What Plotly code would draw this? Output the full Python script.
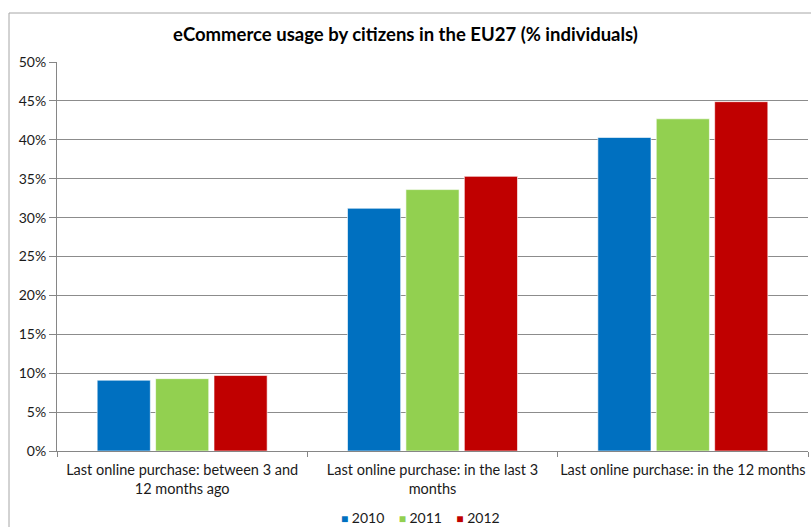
import plotly.graph_objects as go

# Share of individuals, by time of last online purchase
categories = [
    "Last online purchase: between 3 and<br>12 months ago",
    "Last online purchase: in the last 3<br>months",
    "Last online purchase: in the 12 months",
]
years = ["2010", "2011", "2012"]
values_2010 = [9.1, 31.2, 40.3]
values_2011 = [9.3, 33.6, 42.7]
values_2012 = [9.7, 35.3, 44.9]
colors = ["#0070C0", "#92D050", "#C00000"]
tick_vals = [0, 5, 10, 15, 20, 25, 30, 35, 40, 45, 50]
tick_text = [f"{v}%" for v in tick_vals]

FONT = "Lato"
TEXT = "#1a1a1a"

fig = go.Figure()
for name, vals, col in zip(years, [values_2010, values_2011, values_2012], colors):
    fig.add_trace(go.Bar(
        x=categories, y=vals, name=name, showlegend=False,
        marker=dict(color=col, line=dict(color="rgba(255,255,255,0.6)", width=1)),
    ))

L, R, T, B = 57, 3, 62, 76
W, H = 811, 527
pw, ph = W - L - R, H - T - B

# Compact legend row: coloured squares followed by the year
legend_text = "&nbsp;&nbsp;&nbsp;&nbsp;".join(
    f"<span style='color:{c};font-size:12px'>■</span>&nbsp;{y}"
    for y, c in zip(years, colors)
)

fig.update_layout(
    width=W, height=H,
    margin=dict(l=L, r=R, t=T, b=B, autoexpand=False),
    paper_bgcolor="white", plot_bgcolor="white",
    barmode="group", bargap=0.3, bargroupgap=0.09,
    font=dict(family=FONT, size=14, color=TEXT),
    title=dict(
        text="<b>eCommerce usage by citizens in the EU27 (% individuals)</b>",
        x=0.5, xanchor="center", y=1 - 35 / H, yanchor="middle",
        font=dict(family=FONT, size=18.5, color="#000000"),
    ),
    showlegend=False,
    xaxis=dict(
        type="category", showgrid=False, showline=True, linecolor="#868686",
        linewidth=1, ticks="outside", ticklen=5, tickcolor="#868686",
        tickson="boundaries", automargin=False, tickangle=0,
        ticklabelstandoff=6,
        tickfont=dict(family=FONT, size=14.5, color=TEXT),
    ),
    yaxis=dict(
        range=[0, 50], tickvals=tick_vals, ticktext=tick_text,
        showgrid=True, gridcolor="#8c8c8c", gridwidth=1,
        showline=True, linecolor="#868686", linewidth=1,
        ticks="outside", ticklen=7, tickcolor="#868686", automargin=False,
        tickfont=dict(family=FONT, size=14, color=TEXT), zeroline=False,
    ),
    annotations=[dict(
        text=legend_text, xref="paper", yref="paper",
        x=(420 - L) / pw, y=-(517 - (H - B)) / ph,
        xanchor="center", yanchor="middle", showarrow=False,
        font=dict(family=FONT, size=14, color=TEXT),
    )],
    shapes=[dict(
        type="rect", xref="paper", yref="paper",
        x0=(9 - L) / pw, x1=(W + 5 - L) / pw,
        y0=-(H + 5 - (H - B)) / ph, y1=((H - B) - 13) / ph,
        line=dict(color="#A6A6A6", width=1), fillcolor="rgba(0,0,0,0)", layer="below",
    )],
)

fig.write_html("out.html")
